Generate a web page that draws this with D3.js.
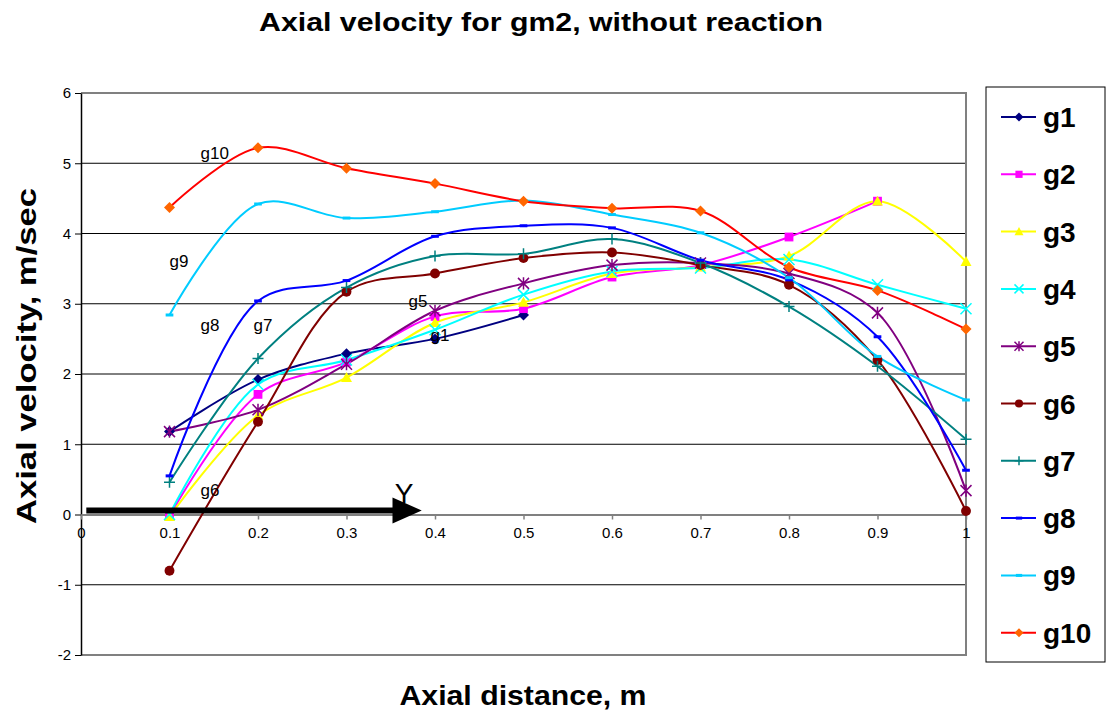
<!DOCTYPE html>
<html>
<head>
<meta charset="utf-8">
<script src="https://cdn.jsdelivr.net/npm/d3@7"></script>
<style>
  body { margin: 0; background: #fff; }
  text { font-family: "Liberation Sans", Arial, sans-serif; }
</style>
</head>
<body>
<div id="chart"></div>
<script>
// data
const xValues = [0.1, 0.2, 0.3, 0.4, 0.5, 0.6, 0.7, 0.8, 0.9, 1.0];
const yTicks = [-2, -1, 0, 1, 2, 3, 4, 5, 6];
const xTicks = [0, 0.1, 0.2, 0.3, 0.4, 0.5, 0.6, 0.7, 0.8, 0.9, 1];

const g1 = [1.18, 1.92, 2.29, 2.50, 2.84];
const g2 = [-0.02, 1.71, 2.17, 2.82, 2.93, 3.38, 3.55, 3.95, 4.46];
const g3 = [-0.03, 1.41, 1.95, 2.73, 3.02, 3.43, 3.52, 3.68, 4.46, 3.60];
const g4 = [0.00, 1.85, 2.20, 2.63, 3.13, 3.46, 3.51, 3.63, 3.27, 2.93];
const g5 = [1.18, 1.49, 2.14, 2.90, 3.29, 3.55, 3.58, 3.43, 2.87, 0.34];
const g6 = [-0.80, 1.32, 3.17, 3.43, 3.65, 3.73, 3.55, 3.27, 2.20, 0.05];
const g7 = [0.46, 2.22, 3.23, 3.68, 3.71, 3.92, 3.58, 2.96, 2.11, 1.07];
const g8 = [0.55, 3.04, 3.33, 3.96, 4.11, 4.08, 3.62, 3.34, 2.53, 0.63];
const g9 = [2.84, 4.42, 4.22, 4.31, 4.47, 4.27, 4.01, 3.37, 2.25, 1.63];
const g10 = [4.37, 5.22, 4.93, 4.71, 4.46, 4.36, 4.32, 3.52, 3.19, 2.64];

const seriesNames = ["g1", "g2", "g3", "g4", "g5", "g6", "g7", "g8", "g9", "g10"];
const seriesValues = [g1, g2, g3, g4, g5, g6, g7, g8, g9, g10];
const lineColors = ["#000080", "#ff00ff", "#ffff00", "#00ffff", "#800080", "#800000", "#008080", "#0000ff", "#00ccff", "#ff0000"];
const markerColors = ["#000080", "#ff00ff", "#ffff00", "#00ffff", "#800080", "#800000", "#008080", "#0000ff", "#00ccff", "#ff6600"];
const markerTypes = ["diamond", "square", "triangle", "x", "star", "circle", "plus", "dash", "dash", "diamond"];

// in-plot labels [text, x, y value]
const noteText = ["g10", "g9", "g8", "g7", "g5", "g1", "g6"];
const noteX = [0.135, 0.1, 0.135, 0.195, 0.37, 0.395, 0.135];
const noteY = [5.06, 3.52, 2.61, 2.61, 2.96, 2.47, 0.27];

const width = 1107, height = 711;
const margin = {left: 81, right: 141, top: 93, bottom: 56};

const svg = d3.select("#chart").append("svg")
  .attr("width", width)
  .attr("height", height);

const x = d3.scaleLinear().domain([0, 1]).range([margin.left, width - margin.right]);
const y = d3.scaleLinear().domain([-2, 6]).range([height - margin.bottom, margin.top]);

// gridlines
svg.append("g").selectAll("line")
  .data(yTicks.filter(d => d > -2 && d < 6 && d !== 0))
  .enter().append("line")
  .attr("x1", x(0)).attr("x2", x(1))
  .attr("y1", d => y(d)).attr("y2", d => y(d))
  .attr("stroke", "#000").attr("stroke-width", 1);

// frame (top, right, bottom in grey)
svg.append("path")
  .attr("d", `M${x(0)},${y(6)}H${x(1)}V${y(-2)}H${x(0)}`)
  .attr("fill", "none").attr("stroke", "#808080").attr("stroke-width", 2);

// y axis
const yAxis = svg.append("g")
  .attr("transform", `translate(${x(0)},0)`)
  .call(d3.axisLeft(y).tickValues(yTicks).tickSize(6).tickSizeOuter(0).tickFormat(d => String(d)));
yAxis.select(".domain").attr("stroke", "#000").attr("stroke-width", 1.5);
yAxis.selectAll(".tick line").attr("stroke", "#000");
yAxis.selectAll(".tick text").attr("font-size", 15).attr("fill", "#000").attr("x", -10)
  .style("font-family", "Liberation Sans, Arial, sans-serif");

// x axis at zero
const xAxis = svg.append("g")
  .attr("transform", `translate(0,${y(0)})`)
  .call(d3.axisBottom(x).tickValues(xTicks).tickSize(5).tickSizeOuter(0)
    .tickFormat(d => d === 0 ? "0" : d === 1 ? "1" : d3.format(".1f")(d)));
xAxis.select(".domain").attr("stroke", "#808080").attr("stroke-width", 2);
xAxis.selectAll(".tick line").attr("stroke", "#808080").attr("stroke-width", 1.5);
xAxis.selectAll(".tick text").attr("font-size", 15).attr("fill", "#000").attr("y", 13)
  .style("font-family", "Liberation Sans, Arial, sans-serif");

// marker shapes
function drawMarker(g, type, color, size) {
  const s = size;
  if (type === "diamond") {
    g.append("path").attr("d", `M0,${-s}L${s},0L0,${s}L${-s},0Z`).attr("fill", color);
  } else if (type === "square") {
    g.append("rect").attr("x", -s * 0.8).attr("y", -s * 0.8).attr("width", s * 1.6).attr("height", s * 1.6).attr("fill", color);
  } else if (type === "triangle") {
    g.append("path").attr("d", `M0,${-s}L${s},${s * 0.8}L${-s},${s * 0.8}Z`).attr("fill", color);
  } else if (type === "circle") {
    g.append("circle").attr("r", s * 0.9).attr("fill", color);
  } else if (type === "x") {
    g.append("path").attr("d", `M${-s},${-s}L${s},${s}M${-s},${s}L${s},${-s}`).attr("stroke", color).attr("stroke-width", 1.5);
  } else if (type === "star") {
    g.append("path").attr("d", `M${-s},${-s}L${s},${s}M${-s},${s}L${s},${-s}M0,${-s * 1.1}V${s * 1.1}`)
      .attr("stroke", color).attr("stroke-width", 1.5);
  } else if (type === "plus") {
    g.append("path").attr("d", `M${-s},0H${s}M0,${-s}V${s}`).attr("stroke", color).attr("stroke-width", 1.5);
  } else if (type === "dash") {
    g.append("rect").attr("x", -s * 0.7).attr("y", -1.5).attr("width", s * 1.4).attr("height", 3).attr("fill", color);
  }
}

// series lines
const line = d3.line()
  .x((d, i) => x(xValues[i]))
  .y(d => y(d))
  .curve(d3.curveCatmullRom.alpha(0.5));

seriesValues.forEach((vals, k) => {
  svg.append("path")
    .datum(vals)
    .attr("d", line)
    .attr("fill", "none")
    .attr("stroke", lineColors[k])
    .attr("stroke-width", 2);
});

seriesValues.forEach((vals, k) => {
  vals.forEach((v, i) => {
    const g = svg.append("g").attr("transform", `translate(${x(xValues[i])},${y(v)})`);
    drawMarker(g, markerTypes[k], markerColors[k], 5.5);
  });
});

// in-plot labels
svg.append("g").selectAll("text")
  .data(noteText)
  .enter().append("text")
  .attr("x", (d, i) => x(noteX[i]))
  .attr("y", (d, i) => y(noteY[i]))
  .attr("font-size", 17)
  .attr("fill", "#000")
  .text(d => d);

// Y arrow
const arrowY = y(0) - 4;
svg.append("line")
  .attr("x1", x(0.006)).attr("x2", x(0.355))
  .attr("y1", arrowY).attr("y2", arrowY)
  .attr("stroke", "#000").attr("stroke-width", 6);
svg.append("path")
  .attr("d", `M${x(0.352)},${arrowY - 13}L${x(0.385)},${arrowY}L${x(0.352)},${arrowY + 13}Z`)
  .attr("fill", "#000");
svg.append("text")
  .attr("x", x(0.365)).attr("y", arrowY - 8)
  .attr("text-anchor", "middle")
  .attr("font-size", 28)
  .text("Y");

// titles
svg.append("text")
  .attr("x", 541).attr("y", 31)
  .attr("text-anchor", "middle")
  .attr("font-size", 26).attr("font-weight", "bold")
  .attr("textLength", 564).attr("lengthAdjust", "spacingAndGlyphs")
  .text("Axial velocity for gm2, without reaction");

svg.append("text")
  .attr("x", 523).attr("y", 705)
  .attr("text-anchor", "middle")
  .attr("font-size", 27).attr("font-weight", "bold")
  .attr("textLength", 247).attr("lengthAdjust", "spacingAndGlyphs")
  .text("Axial distance, m");

svg.append("text")
  .attr("transform", "translate(36,356) rotate(-90)")
  .attr("text-anchor", "middle")
  .attr("font-size", 27).attr("font-weight", "bold")
  .attr("textLength", 336).attr("lengthAdjust", "spacingAndGlyphs")
  .text("Axial velocity, m/sec");

// legend
const legend = svg.append("g").attr("transform", "translate(986,87)");
legend.append("rect")
  .attr("width", 119).attr("height", 575)
  .attr("fill", "#fff").attr("stroke", "#000").attr("stroke-width", 1);

seriesNames.forEach((name, k) => {
  const ly = 30 + k * 57.3;
  const item = legend.append("g").attr("transform", `translate(0,${ly})`);
  item.append("line")
    .attr("x1", 15).attr("x2", 50)
    .attr("stroke", lineColors[k]).attr("stroke-width", 2);
  const m = item.append("g").attr("transform", "translate(33,0)");
  drawMarker(m, markerTypes[k], markerColors[k], 4.5);
  item.append("text")
    .attr("x", 57).attr("y", 10)
    .attr("font-size", 28).attr("font-weight", "bold")
    .text(name);
});
</script>
</body>
</html>
